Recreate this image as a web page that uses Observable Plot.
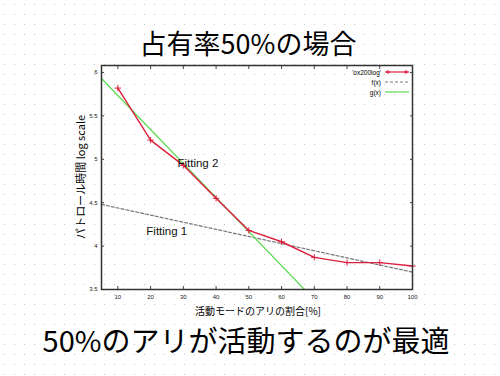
<!DOCTYPE html>
<html>
<head>
<meta charset="utf-8">
<script src="https://cdn.jsdelivr.net/npm/d3@7"></script>
<script src="https://cdn.jsdelivr.net/npm/@observablehq/plot@0.6"></script>
<style>
  html, body { margin: 0; padding: 0; background: #fff; }
  #wrap {
    position: relative; width: 500px; height: 376px; overflow: hidden;
    background-color: #fff;
    background-image: url("data:image/svg+xml;utf8,<svg xmlns='http://www.w3.org/2000/svg' width='10' height='10'><rect x='4' y='4' width='1' height='1' fill='%23c4c4c4'/></svg>");
    background-size: 10px 10px;
    font-family: "Noto Sans CJK JP", "Liberation Sans", sans-serif;
  }
  #chart { position: absolute; left: 0; top: 0; }
  .abs { position: absolute; white-space: nowrap; color: #000; }
  #title { left: 0; width: 496px; text-align: center; top: 29px; font-size: 27px; line-height: 1; }
  #xlabel { left: 0; width: 516px; text-align: center; top: 306px; font-size: 10px; line-height: 1; }
  #ylabel { left: 80px; top: 177px; font-size: 11px; line-height: 1; transform: translate(-50%, -50%) rotate(-90deg); }
  #caption { left: 0; width: 492px; text-align: center; top: 325px; font-size: 29px; line-height: 1; }
  #legend { right: 90px; top: 67px; font-family: "Liberation Sans", sans-serif; font-size: 6.5px; }
  #legend .row { display: flex; align-items: center; justify-content: flex-end; height: 10px; }
  #legend svg { margin-left: 3px; }
</style>
</head>
<body>
<div id="wrap">
  <div id="chart"></div>
  <div class="abs" id="title">占有率50%の場合</div>
  <div class="abs" id="ylabel">パトロール時間 log scale</div>
  <div class="abs" id="xlabel">活動モードのアリの割合[%]</div>
  <div class="abs" id="caption">50%のアリが活動するのが最適</div>
  <div class="abs" id="legend"></div>
</div>
<script>
// Data series 'ox200log'
const ratio = [10, 20, 30, 40, 50, 60, 70, 80, 90, 100];
const patrol = [5.82, 5.22, 4.93, 4.55, 4.18, 4.05, 3.87, 3.81, 3.81, 3.77];
// Fitting lines (endpoints)
const fX = [5, 100];
const fY = [4.48, 3.70];
const gX = [5, 67];
const gY = [5.93, 3.5];
// Annotations
const noteText = ["Fitting 2", "Fitting 1"];
const noteX = [28.2, 18.7];
const noteY = [4.95, 4.17];
// Ticks
const xTicks = [10, 20, 30, 40, 50, 60, 70, 80, 90, 100];
const yTicks = [3.5, 4, 4.5, 5, 5.5, 6];
// Legend
const legendNames = ["'ox200log'", "f(x)", "g(x)"];
const legendColors = ["#dc1f3e", "#777777", "#5fdc55"];
const legendDash = [null, "3,2", null];

const red = legendColors[0], gray = legendColors[1], green = legendColors[2];

const series = ratio.map((x, i) => ({x, y: patrol[i]}));
const fLine = fX.map((x, i) => ({x, y: fY[i]}));
const gLine = gX.map((x, i) => ({x, y: gY[i]}));
const notes = noteText.map((t, i) => ({t, x: noteX[i], y: noteY[i]}));

const yFmt = d => String(d);

const plot = Plot.plot({
  width: 500,
  height: 376,
  marginLeft: 101,
  marginRight: 88,
  marginTop: 65,
  marginBottom: 87,
  style: { background: "transparent", fontFamily: "Liberation Sans, sans-serif" },
  x: { domain: [5, 100] },
  y: { domain: [3.5, 6.08] },
  marks: [
    Plot.axisX({ticks: xTicks, tickSize: -3, tickPadding: 8, fontSize: 6, label: null, stroke: "#444", fill: "#222"}),
    Plot.axisX({ticks: xTicks, anchor: "top", tickSize: -3, text: null, label: null, stroke: "#444"}),
    Plot.axisY({ticks: yTicks, tickSize: -3, tickPadding: 7, tickFormat: yFmt, fontSize: 6, label: null, stroke: "#444", fill: "#222"}),
    Plot.axisY({ticks: yTicks, anchor: "right", tickSize: -3, text: null, label: null, stroke: "#444"}),
    Plot.line(fLine, {x: "x", y: "y", stroke: gray, strokeWidth: 1.2, strokeDasharray: "3,2", clip: true}),
    Plot.line(gLine, {x: "x", y: "y", stroke: green, strokeWidth: 1.3, clip: true}),
    Plot.line(series, {x: "x", y: "y", stroke: red, strokeWidth: 1.4}),
    Plot.dot(series, {x: "x", y: "y", symbol: "plus", r: 2.2, stroke: red, strokeWidth: 1}),
    Plot.text(notes, {x: "x", y: "y", text: "t", textAnchor: "start", fontSize: 11.5, fill: "#111", fontFamily: "Liberation Sans, sans-serif"}),
    Plot.frame({stroke: "#333", strokeWidth: 1.5})
  ]
});
document.getElementById("chart").appendChild(plot);

// Legend
const legend = document.getElementById("legend");
legendNames.forEach((name, i) => {
  const row = document.createElement("div");
  row.className = "row";
  const span = document.createElement("span");
  span.textContent = name;
  row.appendChild(span);
  const svg = d3.create("svg").attr("width", 26).attr("height", 6);
  const ln = svg.append("line").attr("x1", 1).attr("x2", 25).attr("y1", 3).attr("y2", 3)
    .attr("stroke", legendColors[i]).attr("stroke-width", 1.2);
  if (legendDash[i]) ln.attr("stroke-dasharray", legendDash[i]);
  if (i === 0) {
    [4, 22].forEach(cx => {
      svg.append("path").attr("d", `M${cx-2},3H${cx+2}M${cx},1V5`).attr("stroke", legendColors[i]);
    });
  }
  row.appendChild(svg.node());
  legend.appendChild(row);
});
</script>
</body>
</html>
